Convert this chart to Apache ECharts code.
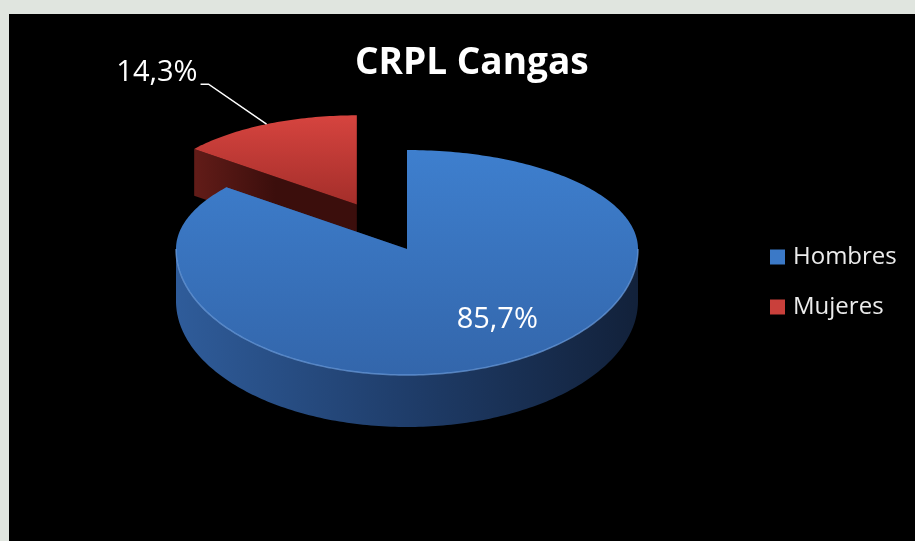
<!DOCTYPE html>
<html lang="es" style="height: 100%">
    <head>
        <meta charset="utf-8" />
        <style>
            html, body { margin: 0; height: 100%; background: #e0e5df; }
            #container { position: absolute; left: 9px; top: 14px; right: 0; bottom: 0; }
        </style>
    </head>
    <body>
        <div id="container"></div>

        <script
            type="text/javascript"
            src="https://fastly.jsdelivr.net/npm/echarts@6/dist/echarts.min.js"
        ></script>

        <script type="text/javascript">
            // datos
            var categories = ['Hombres', 'Mujeres'];
            var values = [85.7, 14.3];
            var labels = ['85,7%', '14,3%'];

            // colores (estilo)
            var legendColors = ['#3b79c7', '#c9403b'];
            var topColors = [['#3e7fce', '#3366ab'], ['#d6443f', '#a42e2a']];
            var sideColors = [['#2f5c9a', '#1f3d6a', '#12213a'], ['#621c18', '#3b0e0c', '#3b0e0c']];

            var dom = document.getElementById('container');
            var myChart = echarts.init(dom, null, { renderer: 'canvas' });

            var total = values.reduce(function (s, v) { return s + v; }, 0);
            // angulos en grados, sentido horario desde las 12
            var startAngles = [];
            var acc = 0;
            values.forEach(function (v) {
                startAngles.push(acc / total * 360);
                acc += v;
            });

            var pie = { cx: 398, cy: 235, rx: 231, ryTop: 99, ryBottom: 126, depth: 52 };
            var explode = [0, 0.5];
            var shrink = [1, 0.9];

            function project(c, deg, r, z) {
                var t = deg * Math.PI / 180;
                var s = Math.sin(t), k = -Math.cos(t);
                var ry = k < 0 ? pie.ryTop : pie.ryBottom;
                return [c[0] + s * pie.rx * r, c[1] + k * ry * r + z];
            }

            function grad(x, y, colors) {
                var stops = colors.map(function (col, j) {
                    return { offset: j / (colors.length - 1), color: col };
                });
                return new echarts.graphic.LinearGradient(0, 0, x, y, stops);
            }

            function renderSlice(i) {
                return function (params, api) {
                    var value = api.value(0);
                    var a0 = startAngles[i];
                    var a1 = a0 + value / total * 360;
                    var mid = (a0 + a1) / 2;
                    var c = project([pie.cx, pie.cy], mid, explode[i], 0);
                    var r = shrink[i];
                    var d = pie.depth * r;
                    var children = [];
                    var a;

                    var arcTop = [];
                    for (a = a0; a < a1; a += 1) arcTop.push(project(c, a, r, 0));
                    arcTop.push(project(c, a1, r, 0));

                    // pared exterior: solo se ve la mitad delantera
                    var w0 = Math.max(a0, 90), w1 = Math.min(a1, 270);
                    var rim = [];
                    if (w1 > w0) {
                        var wall = [];
                        for (a = w0; a < w1; a += 1) wall.push(project(c, a, r, 0));
                        wall.push(project(c, w1, r, 0));
                        rim = wall.slice();
                        for (a = w1; a > w0; a -= 1) wall.push(project(c, a, r, d));
                        wall.push(project(c, w0, r, d));
                        children.push({
                            type: 'polygon',
                            shape: { points: wall },
                            style: { fill: grad(1, 0, sideColors[i]) }
                        });
                    }

                    // caras de corte
                    [a0, a1].forEach(function (ang) {
                        var e = project(c, ang, r, 0);
                        children.push({
                            type: 'polygon',
                            shape: { points: [c, e, [e[0], e[1] + d], [c[0], c[1] + d]] },
                            style: { fill: grad(1, 0, sideColors[i]) }
                        });
                    });

                    // cara superior
                    children.push({
                        type: 'polygon',
                        shape: { points: [c].concat(arcTop) },
                        style: { fill: grad(0, 1, topColors[i]) }
                    });
                    if (rim.length) {
                        children.push({
                            type: 'polyline',
                            shape: { points: rim },
                            style: { stroke: 'rgba(110,160,225,0.7)', lineWidth: 1.5, fill: null }
                        });
                    }

                    // etiqueta
                    var t = mid * Math.PI / 180;
                    var s = Math.sin(t), k = -Math.cos(t);
                    if (value / total > 0.25) {
                        children.push({
                            type: 'text',
                            style: {
                                text: labels[i],
                                x: c[0] + s * pie.rx * r * 0.9,
                                y: c[1] + k * (k < 0 ? pie.ryTop : pie.ryBottom) * r * 0.62,
                                fill: '#ffffff',
                                font: '29px "Open Sans"',
                                align: 'center',
                                verticalAlign: 'middle'
                            }
                        });
                    } else {
                        var p = project(c, mid, r, 0);
                        var knee = [p[0] - 58, p[1] - 40];
                        var end = [knee[0] - 8, knee[1]];
                        children.push({
                            type: 'polyline',
                            shape: { points: [p, knee, end] },
                            style: { stroke: '#ffffff', lineWidth: 1.5, fill: null }
                        });
                        children.push({
                            type: 'text',
                            style: {
                                text: labels[i],
                                x: end[0] - 3,
                                y: end[1] - 11,
                                fill: '#ffffff',
                                font: '29px "Open Sans"',
                                align: 'right',
                                verticalAlign: 'middle'
                            }
                        });
                    }

                    return { type: 'group', children: children };
                };
            }

            var option = {
                backgroundColor: '#000000',
                animation: false,
                title: {
                    text: 'CRPL Cangas',
                    left: 341,
                    top: 26,
                    textStyle: {
                        color: '#ffffff',
                        fontSize: 37,
                        fontWeight: 'bold',
                        fontFamily: 'Open Sans'
                    }
                },
                legend: {
                    data: categories,
                    orient: 'vertical',
                    left: 761,
                    top: 231,
                    padding: 0,
                    icon: 'rect',
                    itemWidth: 15,
                    itemHeight: 15,
                    itemGap: 26,
                    selectedMode: false,
                    textStyle: {
                        color: '#ececec',
                        fontSize: 24,
                        fontFamily: 'Open Sans',
                        padding: [0, 0, 0, 3]
                    }
                },
                series: categories.map(function (name, i) {
                    return {
                        type: 'custom',
                        name: name,
                        coordinateSystem: 'none',
                        z: i === 0 ? 3 : 2,
                        silent: true,
                        itemStyle: { color: legendColors[i] },
                        renderItem: renderSlice(i),
                        data: [[values[i]]]
                    };
                })
            };

            myChart.setOption(option);
            window.addEventListener('resize', myChart.resize);
        </script>
    </body>
</html>
